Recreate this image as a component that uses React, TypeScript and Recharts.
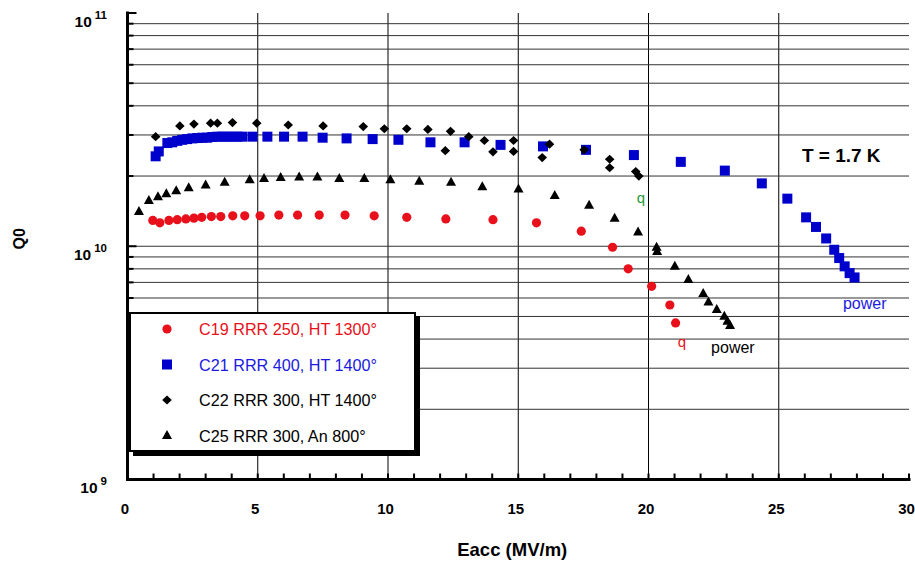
import {
  Label,
  Legend,
  ReferenceDot,
  ReferenceLine,
  Scatter,
  ScatterChart,
  XAxis,
  YAxis,
} from "recharts"

const FONT = "'Liberation Sans', Arial, Helvetica, sans-serif"

// Q0 values are in units of 1e10

// C19 RRR 250, HT 1300°
const c19Eacc = [0.97, 1.24, 1.59, 1.91, 2.24, 2.55, 2.85, 3.22, 3.58, 4.04, 4.5, 5.09, 5.81, 6.53, 7.36, 8.35, 9.47, 10.72, 12.22, 14.03, 15.7, 17.42, 18.62, 19.22, 20.12, 20.82, 21.04]
const c19Q0 = [1.29, 1.26, 1.29, 1.3, 1.31, 1.32, 1.33, 1.34, 1.34, 1.35, 1.35, 1.35, 1.36, 1.36, 1.36, 1.36, 1.35, 1.33, 1.31, 1.3, 1.26, 1.16, 0.99, 0.8, 0.673, 0.56, 0.469]

// C21 RRR 400, HT 1400°
const c21Eacc = [1.08, 1.2, 1.53, 1.72, 1.91, 2.1, 2.29, 2.49, 2.68, 2.87, 3.06, 3.25, 3.45, 3.64, 3.83, 4.02, 4.21, 4.41, 4.8, 5.37, 6.01, 6.72, 7.49, 8.41, 9.41, 10.4, 11.63, 12.94, 14.32, 15.95, 17.6, 19.44, 21.24, 22.93, 24.35, 25.33, 26.05, 26.43, 26.82, 27.13, 27.32, 27.53, 27.72, 27.91]
const c21Q0 = [2.43, 2.55, 2.77, 2.79, 2.83, 2.86, 2.88, 2.9, 2.91, 2.92, 2.92, 2.94, 2.95, 2.95, 2.95, 2.95, 2.95, 2.95, 2.95, 2.95, 2.95, 2.95, 2.92, 2.9, 2.88, 2.86, 2.79, 2.79, 2.72, 2.68, 2.59, 2.46, 2.3, 2.11, 1.86, 1.6, 1.33, 1.21, 1.08, 0.966, 0.89, 0.82, 0.767, 0.735]

// C22 RRR 300, HT 1400°
const c22Eacc = [1.08, 2.01, 2.55, 3.19, 3.45, 4.03, 4.96, 6.17, 7.51, 9.05, 9.86, 10.72, 11.53, 12.2, 12.4, 13.1, 13.7, 14.03, 14.82, 14.82, 15.92, 16.2, 17.53, 18.51, 18.51, 19.51, 19.63]
const c22Q0 = [2.95, 3.28, 3.34, 3.37, 3.37, 3.39, 3.37, 3.31, 3.28, 3.26, 3.19, 3.19, 3.17, 2.57, 3.11, 2.95, 2.84, 2.54, 2.84, 2.55, 2.4, 2.74, 2.59, 2.36, 2.17, 2.09, 2.0]

// C25 RRR 300, An 800°
const c25Eacc = [0.44, 0.82, 1.17, 1.49, 1.87, 2.35, 3.0, 3.73, 4.69, 5.24, 5.88, 6.59, 7.29, 8.13, 9.09, 10.09, 11.2, 12.42, 13.62, 15.01, 16.4, 17.72, 18.7, 19.6, 20.31, 20.33, 21.01, 21.53, 22.1, 22.3, 22.62, 22.91, 23.03, 23.13]
const c25Q0 = [1.41, 1.57, 1.63, 1.68, 1.73, 1.78, 1.83, 1.88, 1.93, 1.95, 1.97, 1.98, 1.98, 1.95, 1.95, 1.93, 1.9, 1.88, 1.8, 1.76, 1.65, 1.5, 1.32, 1.15, 0.99, 0.95, 0.82, 0.72, 0.627, 0.577, 0.535, 0.501, 0.477, 0.457]

const xTicks = [0, 1, 2, 3, 4, 5, 6, 7, 8, 9, 10, 11, 12, 13, 14, 15, 16, 17, 18, 19, 20, 21, 22, 23, 24, 25, 26, 27, 28, 29, 30]
const xLabels = [0, 5, 10, 15, 20, 25, 30]
const yTicks = [1e9, 2e9, 3e9, 4e9, 5e9, 6e9, 7e9, 8e9, 9e9, 1e10, 2e10, 3e10, 4e10, 5e10, 6e10, 7e10, 8e10, 9e10, 1e11]
const yDecades = [1e9, 1e10, 1e11]
const gridX = [5, 10, 15, 20, 25]
const gridY = [2e9, 3e9, 4e9, 5e9, 6e9, 7e9, 8e9, 9e9, 1e10, 2e10, 3e10, 4e10, 5e10, 6e10, 7e10, 8e10, 9e10]

const toPoints = (xs: number[], ys: number[]) =>
  xs.map((x, i) => ({ eacc: x, q0: ys[i] * 1e10 }))

const series = [
  { name: "C19 RRR 250, HT 1300°", color: "#e8101a", text: "#e8101a", kind: "circle", data: toPoints(c19Eacc, c19Q0) },
  { name: "C21 RRR 400, HT 1400°", color: "#0000cc", text: "#1a1ae0", kind: "square", data: toPoints(c21Eacc, c21Q0) },
  { name: "C22 RRR 300, HT 1400°", color: "#000000", text: "#000000", kind: "diamond", data: toPoints(c22Eacc, c22Q0) },
  { name: "C25 RRR 300, An 800°", color: "#000000", text: "#000000", kind: "triangle", data: toPoints(c25Eacc, c25Q0) },
]

function Marker({ kind, cx, cy, color }: any) {
  if (kind === "circle") return <circle cx={cx} cy={cy} r={4.6} fill={color} />
  if (kind === "square") return <rect x={cx - 5} y={cy - 5} width={10} height={10} fill={color} />
  if (kind === "diamond")
    return <polygon points={`${cx},${cy - 4.6} ${cx + 4.8},${cy} ${cx},${cy + 4.6} ${cx - 4.8},${cy}`} fill={color} />
  return <polygon points={`${cx},${cy - 5.5} ${cx + 5},${cy + 3.5} ${cx - 5},${cy + 3.5}`} fill={color} />
}

function BottomTick({ x, y, payload }: any) {
  return (
    <g>
      <line x1={x} x2={x} y1={y} y2={y - 6} stroke="#000" strokeWidth={2} />
      {xLabels.includes(payload.value) && (
        <text x={x - 2.5} y={y + 34} textAnchor="middle" fontSize={15} fontWeight="bold" fill="#000">
          {payload.value}
        </text>
      )}
    </g>
  )
}

function TopTick({ x, y }: any) {
  return <line x1={x} x2={x} y1={y} y2={y + 5} stroke="#000" strokeWidth={2} />
}

function LeftTick({ x, y, payload }: any) {
  const major = yDecades.includes(payload.value)
  return (
    <g>
      <line x1={x} x2={x + (major ? 9 : 6)} y1={y} y2={y} stroke="#000" strokeWidth={2} />
      {major && (
        <text x={107} y={y + 13.5} textAnchor="end" fontSize={15.5} fontWeight="bold" fill="#000">
          10
          <tspan dx={3} dy={-8} fontSize={11.5}>
            {Math.round(Math.log10(payload.value))}
          </tspan>
        </text>
      )}
    </g>
  )
}

function RightTick({ x, y }: any) {
  return <line x1={x} x2={x - 6} y1={y} y2={y} stroke="#000" strokeWidth={2} />
}

function LegendBox() {
  return (
    <div
      style={{
        boxSizing: "border-box",
        width: 287,
        height: 140,
        border: "2px solid #000",
        background: "#fff",
        boxShadow: "4px 4px 0 #000",
        fontFamily: FONT,
      }}
    >
      <svg width={283} height={136} style={{ display: "block" }}>
        {series.map((s, i) => (
          <g key={s.name}>
            <Marker kind={s.kind} cx={36} cy={15 + i * 35.5} color={s.color} />
            <text x={68} y={15 + i * 35.5} dominantBaseline="central" fontSize={16.2} fill={s.text}>
              {s.name}
            </text>
          </g>
        ))}
      </svg>
    </div>
  )
}

const note = (text: string, color: string, size: number, bold: boolean, anchor: string) => (p: any) => (
  <text x={p.cx} y={p.cy} fill={color} fontSize={size} fontWeight={bold ? "bold" : "normal"} textAnchor={anchor}>
    {text}
  </text>
)

const axisLine = { stroke: "#000", strokeWidth: 3, strokeLinecap: "square" as const }

export default function App() {
  return (
    <div style={{ width: 915, height: 561, fontFamily: FONT, background: "#fff" }}>
      <style>{"body{margin:0}"}</style>
      <ScatterChart width={915} height={561} margin={{ top: 13, right: 6, bottom: 0, left: 0 }}>
        <XAxis
          type="number"
          dataKey="eacc"
          domain={[0, 30]}
          ticks={xTicks}
          interval={0}
          tickLine={false}
          tickSize={0}
          tickMargin={0}
          height={81.5}
          axisLine={axisLine}
          tick={(p: any) => <BottomTick {...p} />}
        >
          <Label
            content={({ viewBox }: any) => (
              <text
                x={viewBox.x + viewBox.width / 2 - 6}
                y={viewBox.y + 76.5}
                textAnchor="middle"
                fontSize={18.5}
                fontWeight="bold"
                fill="#000"
              >
                Eacc (MV/m)
              </text>
            )}
          />
        </XAxis>
        <XAxis
          xAxisId="top"
          orientation="top"
          mirror
          type="number"
          domain={[0, 30]}
          ticks={xTicks}
          interval={0}
          height={0}
          tickLine={false}
          tickSize={0}
          tickMargin={0}
          axisLine={axisLine}
          tick={(p: any) => <TopTick {...p} />}
        />
        <YAxis
          type="number"
          dataKey="q0"
          scale="log"
          domain={[1e9, 1e11]}
          allowDataOverflow
          ticks={yTicks}
          interval={0}
          width={127.5}
          tickLine={false}
          tickSize={0}
          tickMargin={0}
          axisLine={axisLine}
          tick={(p: any) => <LeftTick {...p} />}
        >
          <Label
            content={({ viewBox }: any) => {
              const cy = viewBox.y + viewBox.height / 2 - 7.5
              return (
                <text
                  x={19}
                  y={cy}
                  transform={`rotate(-90, 19, ${cy})`}
                  textAnchor="middle"
                  dominantBaseline="central"
                  fontSize={16}
                  fontWeight="bold"
                  fill="#000"
                >
                  Q0
                </text>
              )
            }}
          />
        </YAxis>
        <YAxis
          yAxisId="right"
          orientation="right"
          mirror
          type="number"
          scale="log"
          domain={[1e9, 1e11]}
          allowDataOverflow
          ticks={yTicks}
          interval={0}
          width={0}
          tickLine={false}
          tickSize={0}
          tickMargin={0}
          axisLine={axisLine}
          tick={(p: any) => <RightTick {...p} />}
        />

        {gridX.map((v) => (
          <ReferenceLine key={`gx${v}`} x={v} stroke="#000" strokeWidth={1} />
        ))}
        {gridY.map((v) => (
          <ReferenceLine key={`gy${v}`} y={v} stroke="#333" strokeWidth={1} />
        ))}

        {series.map((s) => (
          <Scatter
            key={s.name}
            name={s.name}
            data={s.data}
            dataKey="q0"
            isAnimationActive={false}
            shape={(p: any) => <Marker kind={s.kind} cx={p.cx} cy={p.cy} color={s.color} />}
          />
        ))}

        <ReferenceDot x={25.89} y={2.294e10} r={0} shape={note("T = 1.7 K", "#000", 19, true, "start")} />
        <ReferenceDot x={19.71} y={1.539e10} r={0} shape={note("q", "#1f9a3a", 15, false, "middle")} />
        <ReferenceDot x={21.28} y={3.694e9} r={0} shape={note("q", "#e8101a", 15, false, "middle")} />
        <ReferenceDot x={23.24} y={3.488e9} r={0} shape={note("power", "#000", 16, false, "middle")} />
        <ReferenceDot x={28.3} y={5.383e9} r={0} shape={note("power", "#1a1ae0", 16, false, "middle")} />

        <Legend
          layout="vertical"
          align="center"
          verticalAlign="middle"
          wrapperStyle={{ left: 129, top: 312, width: 287, height: 140 }}
          content={() => <LegendBox />}
        />
      </ScatterChart>
    </div>
  )
}
